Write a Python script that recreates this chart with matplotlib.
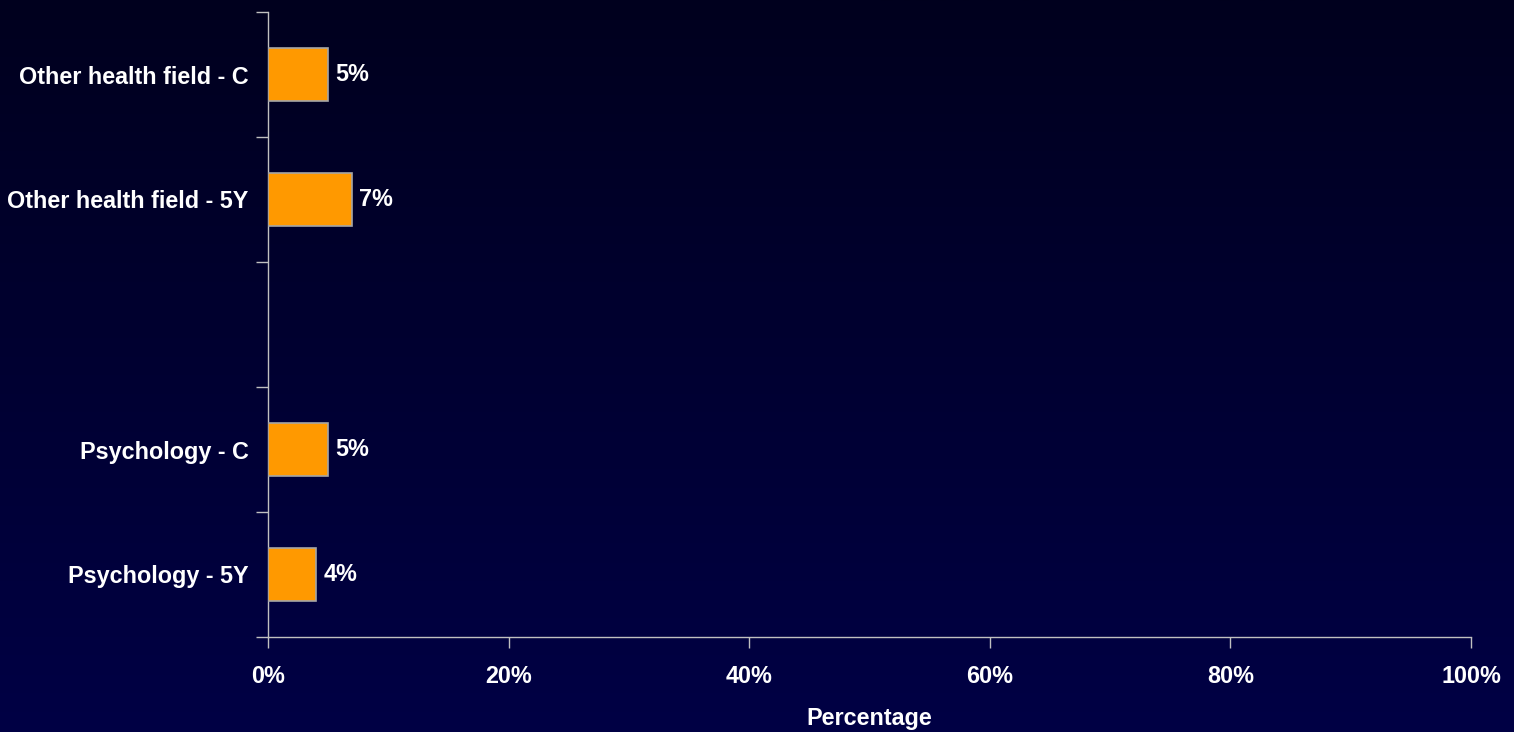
import matplotlib
matplotlib.use("Agg")
import matplotlib.pyplot as plt
import numpy as np

categories = ["Other health field - C", "Other health field - 5Y", "", "Psychology - C", "Psychology - 5Y"]
values = [5, 7, None, 5, 4]
xticks = [0, 20, 40, 60, 80, 100]
xticklabels = ["0%", "20%", "40%", "60%", "80%", "100%"]

plt.rcParams['font.family'] = ['Liberation Sans', 'DejaVu Sans']
FS = 16.8

fig = plt.figure(figsize=(15.14, 7.32), dpi=100)
# gradient background
bg = fig.add_axes([0, 0, 1, 1], zorder=-10)
grad = np.linspace(0, 1, 256).reshape(-1, 1)
top = np.array([0x00, 0x00, 0x1e]) / 255
bot = np.array([0x00, 0x00, 0x45]) / 255
img = top[None, None, :] * (1 - grad[:, :, None]) + bot[None, None, :] * grad[:, :, None]
bg.imshow(img, aspect='auto', extent=[0, 1, 0, 1])
bg.axis('off')

W, H = 1514, 732
left, right, top_px, bottom_px = 268, 1471, 12, 637
ax = fig.add_axes([left / W, 1 - bottom_px / H, (right - left) / W, (bottom_px - top_px) / H])
ax.set_facecolor('none')

n = len(categories)
ypos = np.arange(n)
for i, v in enumerate(values):
    if v is None:
        continue
    ax.barh(i, v, height=0.42, color='#FF9900', edgecolor='#A6A6A6', linewidth=1.2, zorder=3)
    ax.text(v + 0.6, i, f"{v}%", va='center', ha='left', color='white',
            fontsize=FS, fontweight='bold')

ax.set_ylim(n - 0.5, -0.5)
ax.set_xlim(0, 100)
ax.set_yticks(ypos)
ax.set_yticklabels(categories, color='white', fontsize=FS, fontweight='bold')
ax.set_yticks(np.arange(-0.5, n, 1), minor=True)
ax.tick_params(axis='y', which='major', length=0, pad=14)
ax.tick_params(axis='y', which='minor', length=9, color='#C0C0C0', width=1)
ax.set_xticks(xticks)
ax.set_xticklabels(xticklabels, color='white', fontsize=FS, fontweight='bold')
ax.tick_params(axis='x', length=8, color='#C0C0C0', width=1, pad=12)
ax.set_xlabel("Percentage", color='white', fontsize=FS, fontweight='bold', labelpad=14)

for s in ['top', 'right']:
    ax.spines[s].set_visible(False)
for s in ['left', 'bottom']:
    ax.spines[s].set_color('#C0C0C0')
    ax.spines[s].set_linewidth(1)

fig.savefig("out.png", dpi=100)
